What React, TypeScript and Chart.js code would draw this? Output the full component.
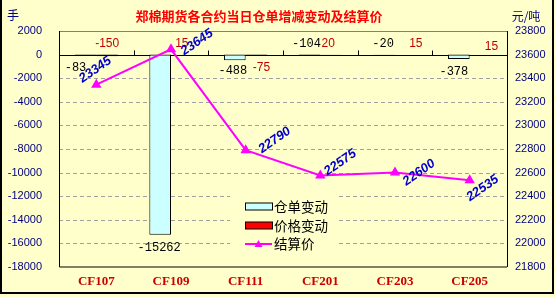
import React, { useEffect, useRef } from "react";
import { Chart, registerables } from "chart.js";

Chart.register(...registerables);

const categories = ["CF107", "CF109", "CF111", "CF201", "CF203", "CF205"];
const warrantChange = [-83, -15262, -488, -104, -20, -378];
const priceChange = [-150, 15, -75, 20, 15, 15];
const settlePrice = [23345, 23645, 22790, 22575, 22600, 22535];

const leftMin = -18000;
const leftMax = 2000;
const leftStep = 2000;
const rightMin = 21800;
const rightMax = 23800;
const rightStep = 200;

const titleText = "郑棉期货各合约当日仓单增减变动及结算价";
const leftUnit = "手";
const rightUnit = "元/吨";
const seriesNames = ["仓单变动", "价格变动", "结算价"];

const warrantLabelOffset = [
  [-10, 12], [-1, 13], [-2, 10], [-3, -12], [-1, -11], [-5, 13],
];
const priceLabelOffset = [
  [0, -13], [0, -11], [5, 12], [-3, -11], [10, -11], [11, -8],
];
const settleLabelOffset = [
  [-1, -15], [26, -7], [29, -10], [20, -13], [24, 0], [13, 8],
];

const BG = "#FFFFCC";
const CJK = '"Noto Sans CJK SC", "Liberation Sans", sans-serif';

const drawPlugin = {
  id: "customDraw",
  beforeDraw(chart: any) {
    const ctx = chart.ctx;
    ctx.save();
    ctx.fillStyle = BG;
    ctx.fillRect(0, 0, chart.width, chart.height);
    ctx.restore();
  },
  beforeDatasetsDraw(chart: any) {
    const ctx = chart.ctx;
    const { left, right, top, bottom } = chart.chartArea;
    const y = chart.scales.y;
    const x = chart.scales.x;
    ctx.save();
    ctx.strokeStyle = "#A0A0A0";
    ctx.lineWidth = 1;
    ctx.setLineDash([4, 3]);
    for (let v = leftMin + leftStep; v < leftMax; v += leftStep) {
      if (v === 0) continue;
      const py = Math.round(y.getPixelForValue(v)) + 0.5;
      ctx.beginPath();
      ctx.moveTo(left, py);
      ctx.lineTo(right, py);
      ctx.stroke();
    }
    ctx.setLineDash([]);
    ctx.strokeStyle = "#808080";
    ctx.beginPath();
    ctx.moveTo(left, Math.round(top) + 0.5);
    ctx.lineTo(right, Math.round(top) + 0.5);
    ctx.stroke();
    ctx.strokeStyle = "#000000";
    ctx.beginPath();
    ctx.moveTo(Math.round(left) + 0.5, top);
    ctx.lineTo(Math.round(left) + 0.5, bottom);
    ctx.lineTo(right, bottom);
    ctx.moveTo(Math.round(right) + 0.5, top);
    ctx.lineTo(Math.round(right) + 0.5, bottom);
    ctx.stroke();
    const zy = Math.round(y.getPixelForValue(0)) + 0.5;
    ctx.beginPath();
    ctx.moveTo(left, zy);
    ctx.lineTo(right, zy);
    const n = categories.length;
    for (let i = 1; i < n; i++) {
      const bx = Math.round((x.getPixelForValue(i - 1) + x.getPixelForValue(i)) / 2) + 0.5;
      ctx.moveTo(bx, zy);
      ctx.lineTo(bx, zy - 5);
    }
    ctx.stroke();

    const lx = 230, ly = 196, lw = 107, lh = 58;
    ctx.fillStyle = BG;
    ctx.fillRect(lx, ly, lw, lh);
    const bx0 = 245, bw = 27;
    const rows = [206.5, 225.5, 244];
    ctx.lineWidth = 1;
    ctx.fillStyle = "#CCFFFF";
    ctx.fillRect(bx0, rows[0] - 3.5, bw, 7);
    ctx.strokeStyle = "#000";
    ctx.strokeRect(bx0 + 0.5, rows[0] - 3.5, bw, 7);
    ctx.fillStyle = "#FF0000";
    ctx.fillRect(bx0, rows[1] - 3.5, bw, 7);
    ctx.strokeRect(bx0 + 0.5, rows[1] - 3.5, bw, 7);
    ctx.strokeStyle = "#FF00FF";
    ctx.lineWidth = 2;
    ctx.beginPath();
    ctx.moveTo(bx0, rows[2]);
    ctx.lineTo(bx0 + bw, rows[2]);
    ctx.stroke();
    ctx.fillStyle = "#FF00FF";
    ctx.beginPath();
    const cx = bx0 + bw / 2;
    ctx.moveTo(cx, rows[2] - 4);
    ctx.lineTo(cx + 4, rows[2] + 3);
    ctx.lineTo(cx - 4, rows[2] + 3);
    ctx.closePath();
    ctx.fill();
    ctx.fillStyle = "#000";
    ctx.font = `13.5px ${CJK}`;
    ctx.textAlign = "left";
    ctx.textBaseline = "middle";
    seriesNames.forEach((s, i) => ctx.fillText(s, bx0 + bw + 2, rows[i]));
    ctx.restore();
  },
  afterDatasetsDraw(chart: any) {
    const ctx = chart.ctx;
    ctx.save();
    ctx.textAlign = "center";
    ctx.textBaseline = "middle";
    const m0 = chart.getDatasetMeta(0);
    ctx.font = '12px "Liberation Mono", monospace';
    ctx.fillStyle = "#000";
    m0.data.forEach((el: any, i: number) => {
      const [dx, dy] = warrantLabelOffset[i];
      ctx.fillText(String(warrantChange[i]), el.x + dx, el.y + dy);
    });
    const m1 = chart.getDatasetMeta(1);
    ctx.font = '12px "Liberation Sans", sans-serif';
    ctx.fillStyle = "#C00000";
    m1.data.forEach((el: any, i: number) => {
      const [dx, dy] = priceLabelOffset[i];
      ctx.fillText(String(priceChange[i]), el.x + dx, el.y + dy);
    });
    const m2 = chart.getDatasetMeta(2);
    ctx.font = 'italic bold 13px "Liberation Sans", sans-serif';
    ctx.fillStyle = "#0000CC";
    m2.data.forEach((el: any, i: number) => {
      const [dx, dy] = settleLabelOffset[i];
      ctx.save();
      ctx.translate(el.x + dx, el.y + dy);
      ctx.rotate((-35 * Math.PI) / 180);
      ctx.fillText(String(settlePrice[i]), 0, 0);
      ctx.restore();
    });
    ctx.restore();
  },
  afterDraw(chart: any) {
    const ctx = chart.ctx;
    ctx.save();
    ctx.textBaseline = "middle";
    ctx.textAlign = "center";
    ctx.font = `bold 13px ${CJK}`;
    ctx.fillStyle = "#FF0000";
    ctx.fillText(titleText, 259, 16);
    ctx.font = `12px ${CJK}`;
    ctx.fillStyle = "#000080";
    ctx.fillText(rightUnit, 526, 16);
    ctx.textAlign = "left";
    ctx.textBaseline = "alphabetic";
    ctx.fillText(leftUnit, 7, 20);
    ctx.strokeStyle = "#000";
    ctx.lineWidth = 2;
    ctx.beginPath();
    ctx.moveTo(1, 0);
    ctx.lineTo(1, 293);
    ctx.lineTo(553, 293);
    ctx.lineTo(553, 0);
    ctx.stroke();
    ctx.restore();
  },
};

const plainTick = (v: any) => String(v);

export default function App() {
  const ref = useRef<HTMLCanvasElement | null>(null);
  useEffect(() => {
    if (!ref.current) return;
    const chart = new Chart(ref.current, {
      type: "bar",
      data: {
        labels: categories,
        datasets: [
          {
            label: seriesNames[0],
            data: warrantChange,
            backgroundColor: "#CCFFFF",
            borderColor: "#000000",
            borderWidth: 1,
            borderSkipped: false,
            categoryPercentage: 0.58,
            barPercentage: 1,
            yAxisID: "y",
            order: 2,
          },
          {
            label: seriesNames[1],
            data: priceChange,
            backgroundColor: "#FF0000",
            borderColor: "#000000",
            borderWidth: 1,
            borderSkipped: false,
            categoryPercentage: 0.58,
            barPercentage: 1,
            yAxisID: "y",
            order: 2,
          },
          {
            type: "line",
            label: seriesNames[2],
            data: settlePrice,
            borderColor: "#FF00FF",
            backgroundColor: "#FF00FF",
            borderWidth: 2,
            pointStyle: "triangle",
            pointRadius: 4,
            pointBackgroundColor: "#FF00FF",
            pointBorderColor: "#FF00FF",
            tension: 0,
            yAxisID: "y1",
            order: 0,
            clip: false,
          } as any,
        ],
      },
      options: {
        animation: false,
        responsive: false,
        devicePixelRatio: 1,
        layout: { padding: { top: 31, left: 0, right: 0, bottom: 0 } },
        plugins: {
          legend: { display: false },
          title: { display: false },
          tooltip: { enabled: false },
        },
        scales: {
          x: {
            type: "category",
            offset: true,
            grid: { display: false, drawTicks: false },
            border: { display: false },
            ticks: {
              color: "#CC0000",
              font: { family: '"Liberation Serif", serif', size: 13, weight: "bold" },
              padding: 7,
              maxRotation: 0,
            },
            afterFit: (s: any) => { s.height = 30; },
          },
          y: {
            position: "left",
            min: leftMin,
            max: leftMax,
            grid: { display: false, drawTicks: false },
            border: { display: false },
            ticks: {
              stepSize: leftStep,
              color: "#000080",
              font: { family: '"Liberation Sans", sans-serif', size: 11 },
              padding: 17,
              callback: plainTick,
            },
            afterFit: (s: any) => { s.width = 59; },
          },
          y1: {
            position: "right",
            min: rightMin,
            max: rightMax,
            grid: { display: false, drawTicks: false },
            border: { display: false },
            ticks: {
              stepSize: rightStep,
              color: "#000080",
              font: { family: '"Liberation Sans", sans-serif', size: 11 },
              padding: 8,
              callback: plainTick,
            },
            afterFit: (s: any) => { s.width = 48; },
          },
        },
      } as any,
      plugins: [drawPlugin],
    });
    return () => chart.destroy();
  }, []);
  return (
    <div style={{ position: "fixed", left: 0, top: 0, width: 555, height: 297 }}>
      <canvas ref={ref} width={555} height={297} style={{ display: "block" }} />
    </div>
  );
}
